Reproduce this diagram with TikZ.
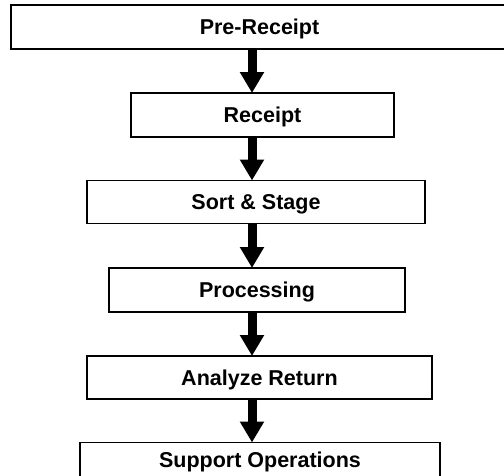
\documentclass[tikz,border=0pt]{standalone}
\usepackage{fontspec}
\setmainfont{Liberation Sans}
\usetikzlibrary{arrows.meta}
\begin{document}
\begin{tikzpicture}[x=1pt,y=-1pt,
  box/.style={draw=black, line width=1.8pt, fill=white, rectangle, outer sep=0pt, inner sep=0pt,
    text height=15pt, text depth=0pt,
    font=\fontsize{21.5}{24}\selectfont\bfseries},
  bigarrow/.style={line width=9pt, line cap=butt, -{Triangle[width=23pt,length=21pt]}}]
\useasboundingbox (0,0) rectangle (504,475);
\fill[white] (0,0) rectangle (504,475);
\coordinate (ax) at (252,0);
\node[box, minimum width=497pt, minimum height=44pt] (n1) at (259.5,27) {Pre-Receipt};
\node[box, minimum width=263pt, minimum height=44pt] (n2) at (262.5,115) {Receipt};
\node[box, minimum width=338pt, minimum height=43pt] (n3) at (256,202) {Sort \& Stage};
\node[box, minimum width=296pt, minimum height=44pt] (n4) at (257,290) {Processing};
\node[box, minimum width=345pt, minimum height=43pt] (n5) at (259.5,377.5) {Analyze Return};
\node[box, minimum width=360pt, minimum height=34pt] (n6) at (260,459.5) {Support Operations};
\draw[bigarrow] (n1.south -| ax) -- (n2.north -| ax);
\draw[bigarrow] (n2.south -| ax) -- (n3.north -| ax);
\draw[bigarrow] (n3.south -| ax) -- (n4.north -| ax);
\draw[bigarrow] (n4.south -| ax) -- (n5.north -| ax);
\draw[bigarrow] (n5.south -| ax) -- (n6.north -| ax);
\end{tikzpicture}
\end{document}
